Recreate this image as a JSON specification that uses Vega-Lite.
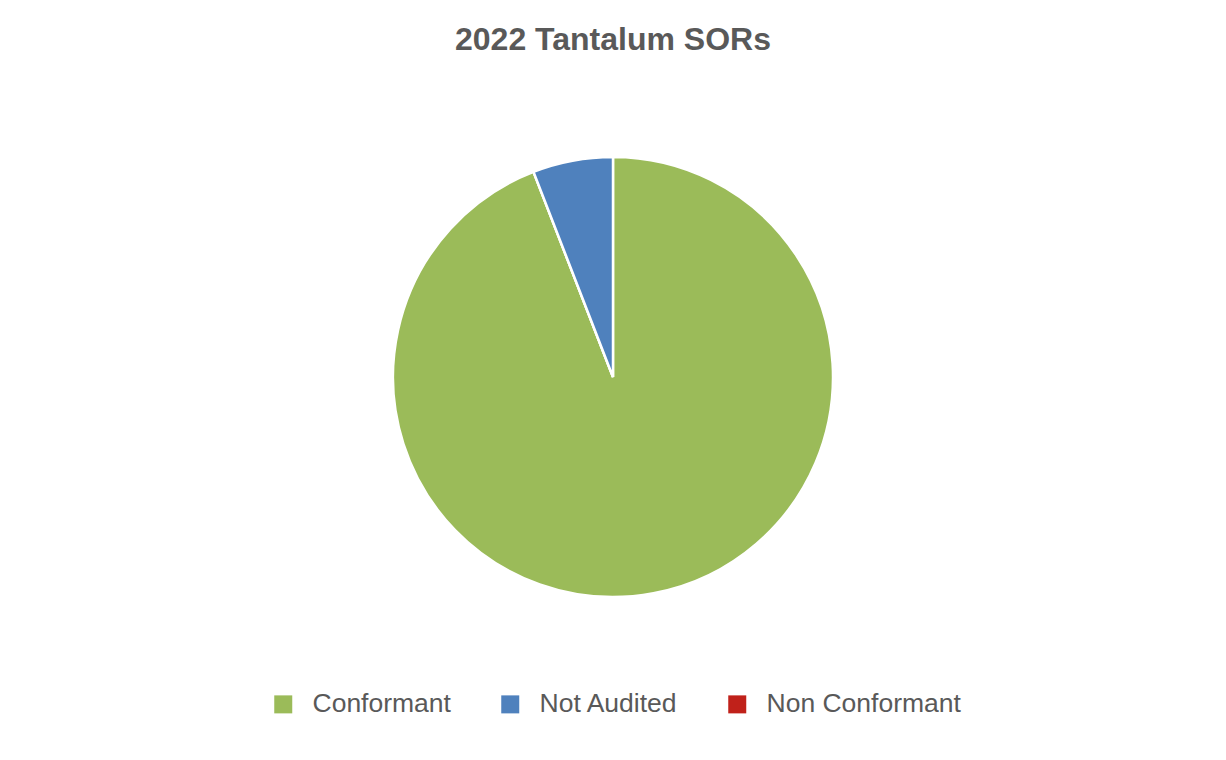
{
  "$schema": "https://vega.github.io/schema/vega-lite/v6.json",
  "autosize": "none",
  "width": 1226,
  "height": 634,
  "padding": {"top": 60, "left": 0, "right": 0, "bottom": 66},
  "background": "white",
  "title": {
    "text": "2022 Tantalum SORs",
    "font": "Liberation Sans",
    "fontSize": 32,
    "fontWeight": "bold",
    "color": "#595959",
    "anchor": "middle",
    "baseline": "alphabetic",
    "offset": -22
  },
  "data": {
    "values": [
      {"status": "Conformant", "count": 16},
      {"status": "Non Conformant", "count": 0},
      {"status": "Not Audited", "count": 1}
    ]
  },
  "mark": {"type": "arc", "outerRadius": 220, "stroke": "white", "strokeWidth": 2.5},
  "encoding": {
    "theta": {"field": "count", "type": "quantitative", "stack": true},
    "color": {
      "field": "status",
      "type": "nominal",
      "scale": {
        "domain": ["Conformant", "Not Audited", "Non Conformant"],
        "range": ["#9BBB59", "#4F81BD", "#C0211A"]
      },
      "legend": {
        "title": null,
        "orient": "none",
        "direction": "horizontal",
        "legendX": 270,
        "legendY": 631,
        "symbolType": "square",
        "symbolSize": 324,
        "symbolStrokeWidth": 0,
        "symbolOpacity": 1,
        "labelFont": "Liberation Sans",
        "labelFontSize": 26.5,
        "labelColor": "#595959",
        "labelOffset": 16,
        "columnPadding": 46,
        "labelLimit": 400
      }
    }
  },
  "config": {"view": {"stroke": null}}
}
